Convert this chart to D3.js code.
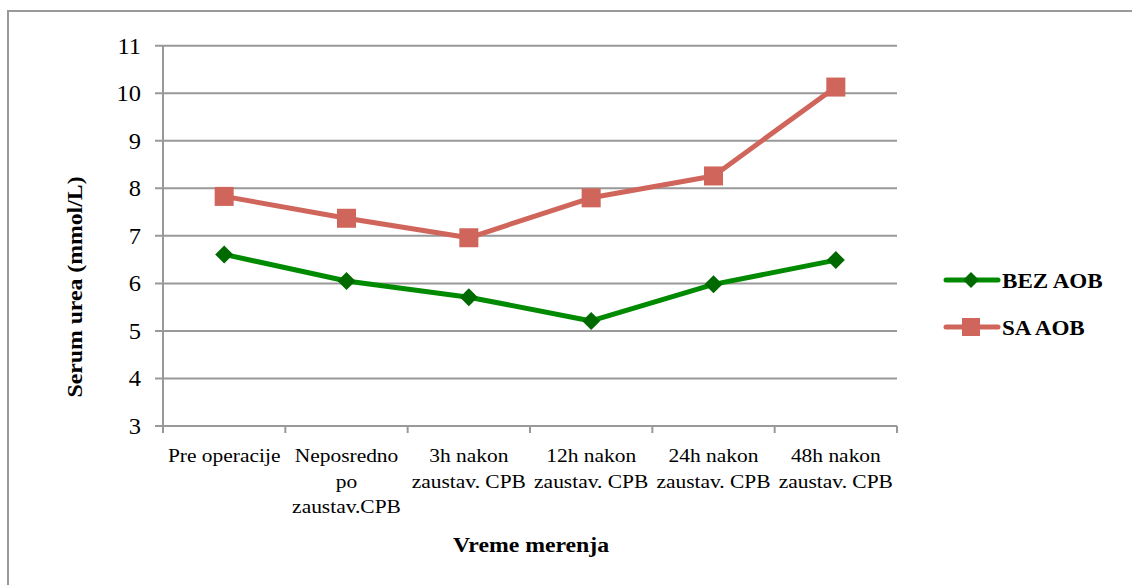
<!DOCTYPE html>
<html>
<head>
<meta charset="utf-8">
<script src="https://cdn.jsdelivr.net/npm/d3@7/dist/d3.min.js"></script>
<style>
  html, body { margin: 0; padding: 0; background: #fff; }
  svg { display: block; }
</style>
</head>
<body>
<svg id="chart" width="1132" height="585" font-family="'Liberation Serif', 'Times New Roman', Times, 'DejaVu Serif', serif"></svg>
<script>
const categories = [
  ["Pre operacije"],
  ["Neposredno", "po", "zaustav.CPB"],
  ["3h nakon", "zaustav. CPB"],
  ["12h nakon", "zaustav. CPB"],
  ["24h nakon", "zaustav. CPB"],
  ["48h nakon", "zaustav. CPB"]
];
const bezAOB = [6.61, 6.05, 5.71, 5.21, 5.98, 6.49];
const saAOB = [7.83, 7.37, 6.96, 7.80, 8.26, 10.13];
const seriesNames = ["BEZ AOB", "SA AOB"];
const yTicks = [3, 4, 5, 6, 7, 8, 9, 10, 11];
const yTitle = "Serum urea (mmol/L)";
const xTitle = "Vreme merenja";

const FONT = "'Liberation Serif', 'Times New Roman', Times, 'DejaVu Serif', serif";
const svg = d3.select("#chart");
const W = 1132, H = 585;
const grid = "#999999";
const green = "#008a00", greenMark = "#006a00", red = "#cf655b";

// frame
svg.append("rect").attr("x", 8).attr("y", 11).attr("width", W + 10).attr("height", H + 10)
  .attr("fill", "none").attr("stroke", grid).attr("stroke-width", 2);

const x0 = 163, x1 = 897, yTop = 45.7, yBot = 426;
const x = d3.scaleBand().domain(d3.range(categories.length)).range([x0, x1]);
const y = d3.scaleLinear().domain([3, 11]).range([yBot, yTop]);

// gridlines
svg.append("g").selectAll("line").data(yTicks).join("line")
  .attr("x1", x0 - 8).attr("x2", x1)
  .attr("y1", d => y(d)).attr("y2", d => y(d))
  .attr("stroke", grid).attr("stroke-width", 2);

// y axis line
svg.append("line").attr("x1", x0).attr("x2", x0).attr("y1", yTop).attr("y2", yBot)
  .attr("stroke", grid).attr("stroke-width", 2);

// x category ticks
const xt = d3.range(categories.length + 1).map(i => i < categories.length ? x(i) : x1);
svg.append("g").selectAll("line").data(xt).join("line")
  .attr("x1", d => d).attr("x2", d => d).attr("y1", yBot).attr("y2", yBot + 7)
  .attr("stroke", grid).attr("stroke-width", 2);

// y tick labels
svg.append("g").selectAll("text").data(yTicks).join("text")
  .attr("font-family", FONT)
  .attr("transform", d => `translate(141,${y(d) + 8}) scale(1.02,1)`)
  .attr("text-anchor", "end").attr("font-size", 24).text(d => d);

// category labels
const catG = svg.append("g");
categories.forEach((lines, i) => {
  const cx = x(i) + x.bandwidth() / 2;
  lines.forEach((ln, j) => {
    catG.append("text").attr("font-family", FONT)
      .attr("transform", `translate(${cx},${462 + j * 25.5}) scale(1.1,1)`)
      .attr("text-anchor", "middle").attr("font-size", 19.5).text(ln);
  });
});

// axis titles
svg.append("text").attr("font-family", FONT).attr("transform", "translate(531,552) scale(1.08,1)")
  .attr("text-anchor", "middle").attr("font-size", 22).attr("font-weight", "bold").text(xTitle);
svg.append("text").attr("font-family", FONT).attr("transform", "translate(82,287) rotate(-90) scale(1.08,1)")
  .attr("text-anchor", "middle").attr("font-size", 22).attr("font-weight", "bold").text(yTitle);

// lines
const line = d3.line().x((d, i) => x(i) + x.bandwidth() / 2).y(d => y(d));
svg.append("path").datum(bezAOB).attr("d", line).attr("fill", "none")
  .attr("stroke", green).attr("stroke-width", 5).attr("stroke-linejoin", "round");
svg.append("path").datum(saAOB).attr("d", line).attr("fill", "none")
  .attr("stroke", red).attr("stroke-width", 5).attr("stroke-linejoin", "round");

const diamond = s => `M0,${-s}L${s},0L0,${s}L${-s},0Z`;
svg.append("g").selectAll("path").data(bezAOB).join("path")
  .attr("transform", (d, i) => `translate(${x(i) + x.bandwidth() / 2},${y(d)})`)
  .attr("d", diamond(9)).attr("fill", greenMark);
svg.append("g").selectAll("rect").data(saAOB).join("rect")
  .attr("x", (d, i) => x(i) + x.bandwidth() / 2 - 9.5).attr("y", d => y(d) - 9.5)
  .attr("width", 19).attr("height", 19).attr("fill", red);

// legend
const leg = [
  { name: seriesNames[0], color: green, mark: greenMark, type: "d", yy: 280 },
  { name: seriesNames[1], color: red, mark: red, type: "s", yy: 327 }
];
leg.forEach(l => {
  svg.append("line").attr("x1", 946).attr("x2", 998).attr("y1", l.yy).attr("y2", l.yy)
    .attr("stroke", l.color).attr("stroke-width", 5).attr("stroke-linecap", "round");
  if (l.type === "d") {
    svg.append("path").attr("transform", `translate(971,${l.yy})`).attr("d", diamond(8)).attr("fill", l.mark);
  } else {
    svg.append("rect").attr("x", 962).attr("y", l.yy - 9).attr("width", 18).attr("height", 18).attr("fill", l.mark);
  }
  svg.append("text").attr("font-family", FONT).attr("transform", `translate(1002,${l.yy + 8}) scale(1.1,1)`)
    .attr("font-size", 21).attr("font-weight", "bold").text(l.name);
});
</script>
</body>
</html>
